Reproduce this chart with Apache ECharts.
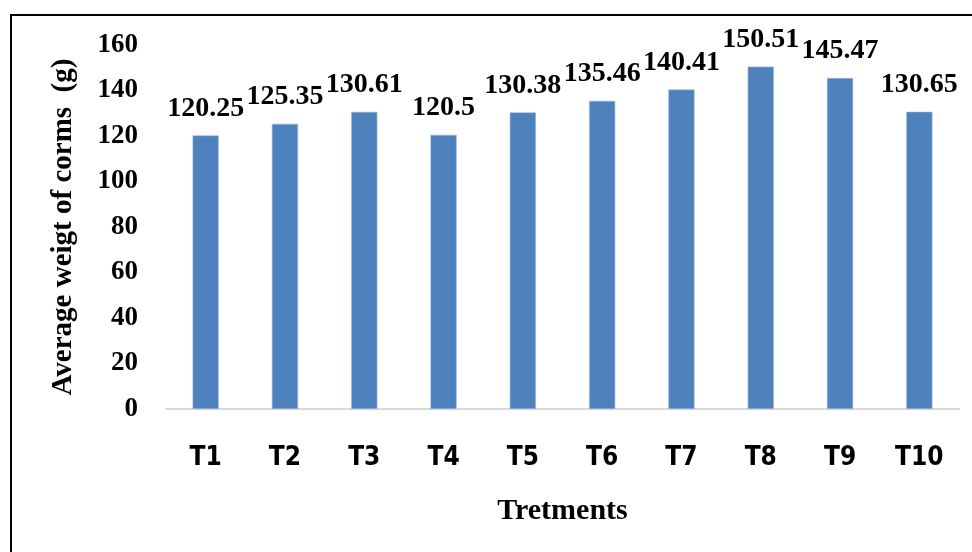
<!DOCTYPE html>
<html>
<head>
<meta charset="utf-8">
<script src="https://cdn.jsdelivr.net/npm/echarts@6/dist/echarts.min.js"></script>
<style>
	html, body { margin: 0; padding: 0; background: #fff; }
	#wrap { position: relative; width: 972px; height: 552px; overflow: hidden; }
	#main { width: 972px; height: 552px; }
	#frame {
		position: absolute; left: 10px; top: 14px; right: -10px; bottom: -10px;
		border-top: 2px solid #000; border-left: 2px solid #000;
		pointer-events: none;
	}
</style>
</head>
<body>
<div id="wrap">
	<div id="main"></div>
	<div id="frame"></div>
</div>
<script>
var categories = ['T1', 'T2', 'T3', 'T4', 'T5', 'T6', 'T7', 'T8', 'T9', 'T10'];
var weights = [120.25, 125.35, 130.61, 120.5, 130.38, 135.46, 140.41, 150.51, 145.47, 130.65];
var yTicks = [0, 20, 40, 60, 80, 100, 120, 140, 160];

var serif = "'Liberation Serif', 'Times New Roman', serif";

var myChart = echarts.init(document.getElementById('main'));
var option = {
	animation : false,
	grid : {
		left : 166,
		right : 13,
		top : 45,
		bottom : 143
	},
	xAxis : {
		type : 'category',
		data : categories,
		name : 'Tretments',
		nameLocation : 'middle',
		nameGap : 87,
		nameTextStyle : {
			fontFamily : serif,
			fontWeight : 'bold',
			fontSize : 30,
			color : '#000'
		},
		axisLine : {
			lineStyle : { color : '#D9D9D9', width : 2 }
		},
		axisTick : { show : false },
		axisLabel : {
			margin : 36,
			fontFamily : "'Liberation Sans Narrow', 'DejaVu Sans Condensed', sans-serif",
			fontWeight : 'bold',
			fontSize : 26,
			color : '#000'
		}
	},
	yAxis : {
		type : 'value',
		min : yTicks[0],
		max : yTicks[yTicks.length - 1],
		interval : 20,
		name : 'Average weigt of corms  (g)',
		nameLocation : 'middle',
		nameGap : 88,
		nameTextStyle : {
			fontFamily : serif,
			fontWeight : 'bold',
			fontSize : 29,
			color : '#000'
		},
		axisLine : { show : false },
		axisTick : { show : false },
		splitLine : { show : false },
		axisLabel : {
			margin : 28,
			fontFamily : serif,
			fontWeight : 'bold',
			fontSize : 27,
			color : '#000'
		}
	},
	series : [ {
		type : 'bar',
		data : weights,
		barWidth : '33%',
		itemStyle : {
			color : '#4F81BD',
			borderColor : '#9DB9DD',
			borderWidth : 0.6
		},
		label : {
			show : true,
			position : 'top',
			distance : 13,
			fontFamily : serif,
			fontWeight : 'bold',
			fontSize : 28,
			color : '#000'
		}
	} ]
};
myChart.setOption(option);
</script>
</body>
</html>
